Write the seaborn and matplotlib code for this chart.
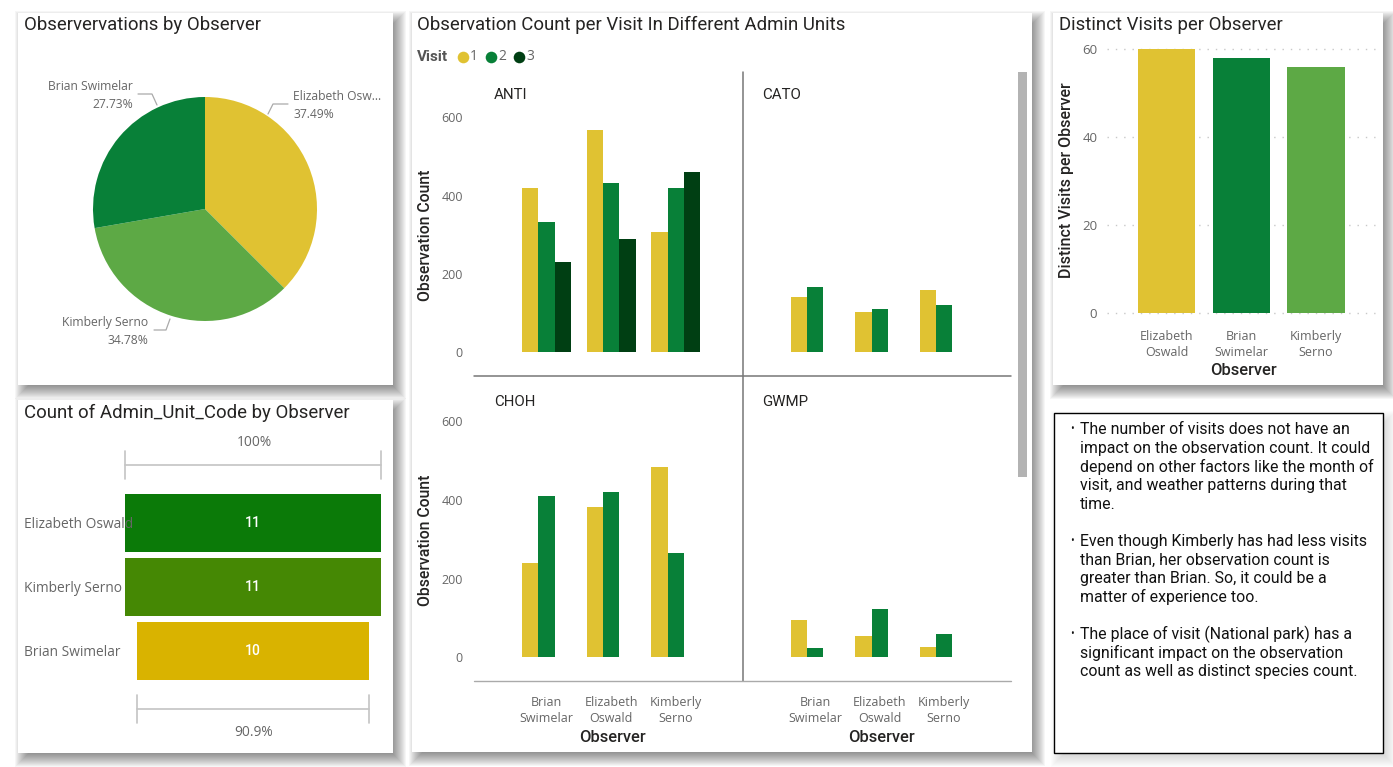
import pandas as pd
import seaborn as sns
import matplotlib.pyplot as plt
from matplotlib.patches import Rectangle
from matplotlib.transforms import blended_transform_factory

W, H = 1393, 767

# === Data ===
pie_names = ["Elizabeth Oswald", "Kimberly Serno", "Brian Swimelar"]
pie_values = [37.49, 34.78, 27.73]

unit_names = ["Elizabeth Oswald", "Kimberly Serno", "Brian Swimelar"]
unit_counts = [11, 11, 10]

visit_names = ["Elizabeth\nOswald", "Brian\nSwimelar", "Kimberly\nSerno"]
visit_counts = [60, 58, 56]

observers = ["Brian\nSwimelar", "Elizabeth\nOswald", "Kimberly\nSerno"]
visits = ["1", "2", "3"]
anti_counts = [[419, 332, 230], [568, 431, 288], [307, 420, 460]]
cato_counts = [[141, 166], [103, 111], [158, 121]]
choh_counts = [[239, 411], [383, 420], [483, 266]]
gwmp_counts = [[96, 23], [55, 123], [26, 60]]

notes = [
    ["The number of visits does not have an", "impact on the observation count. It could",
     "depend on other factors like the month of", "visit, and weather patterns during that", "time."],
    ["Even though Kimberly has had less visits", "than Brian, her observation count is",
     "greater than Brian. So, it could be a", "matter of experience too."],
    ["The place of visit (National park) has a", "significant impact on the observation",
     "count as well as distinct species count."],
]

YELLOW = "#E0C232"
GREEN = "#088038"
DARK = "#003F13"
LIGHT = "#5DA945"
visit_colors = dict(zip(visits, [YELLOW, GREEN, DARK]))
TITLE = "#252423"
GREY = "#666666"
HEAD_FONT = "Roboto"
BODY_FONT = "Open Sans"

sns.set_theme(style="white")
plt.rcParams["font.family"] = [BODY_FONT, "DejaVu Sans"]

fig = plt.figure(figsize=(W / 100, H / 100), dpi=100, facecolor="white")


def px_axes(x0, y0, x1, y1, **kw):
    ax = fig.add_axes([x0 / W, 1 - y1 / H, (x1 - x0) / W, (y1 - y0) / H], **kw)
    ax.patch.set_alpha(0)
    sns.despine(ax=ax, left=True, bottom=True)
    return ax


# === Backing layer: cards, shadows and loose text, in pixel units ===
bg = px_axes(0, 0, W, H, zorder=0)
bg.set_xlim(0, W)
bg.set_ylim(H, 0)
bg.axis("off")


def card(x0, y0, x1, y1, alpha=0.035):
    # soft drop shadow, stacked see-through rectangles
    for grow in range(8, -7, -1):
        bg.add_patch(Rectangle((x0 - grow + 5, y0 - grow + 6), x1 - x0 + 2 * grow, y1 - y0 + 2 * grow,
                               fc="#000000", ec="none", alpha=alpha))
    bg.add_patch(Rectangle((x0, y0), x1 - x0, y1 - y0, fc="white", ec="none"))


card(18, 13, 393, 385)
card(18, 400, 393, 753)
card(412, 13, 1032, 752)
card(1053, 13, 1383, 385)


def title(x, y, s):
    bg.text(x, y, s, fontsize=13.4, family=HEAD_FONT, color=TITLE, va="center", ha="left")


title(24, 24.5, "Observervations by Observer")
title(24, 412.5, "Count of Admin_Unit_Code by Observer")
title(417, 24.5, "Observation Count per Visit In Different Admin Units")
title(1059, 24.5, "Distinct Visits per Observer")

# === Pie ===
pie_ax = px_axes(93, 97, 317, 321)
pie_ax.pie(pie_values, colors=[YELLOW, LIGHT, GREEN], startangle=90, counterclock=False, radius=1,
           wedgeprops={"linewidth": 0})
pie_ax.set_xlim(-1, 1)
pie_ax.set_ylim(-1, 1)

pie_labels = [
    (293, 96.5, 115, "left", 0, [288, 273, 268], [104, 104, 114]),
    (148, 322.5, 340.5, "right", 1, [154, 166, 170], [330, 330, 319]),
    (133, 87, 105, "right", 2, [138, 152, 157], [94, 94, 105]),
]
for x, y1, y2, ha, i, lx, ly in pie_labels:
    name = pie_names[i] if i != 0 else "Elizabeth Osw..."
    bg.text(x, y1, name, fontsize=8.7, color=GREY, ha=ha, va="center")
    bg.text(x, y2, f"{pie_values[i]:.2f}%", fontsize=8.7, color=GREY, ha=ha, va="center")
    bg.plot(lx, ly, color="#aaaaaa", lw=0.9)

# === Funnel ===
funnel_colors = ["#0B7A08", "#458804", "#D9B300"]
funnel_ax = px_axes(125, 491, 381, 683)
sns.barplot(x=unit_counts, y=unit_names, hue=unit_names, palette=funnel_colors, saturation=1,
            width=0.9, legend=False, ax=funnel_ax, orient="h", linewidth=0)
top_count = max(unit_counts)
for bar, count in zip(funnel_ax.patches, unit_counts):
    bar.set_x((top_count - count) / 2)
    funnel_ax.text(top_count / 2, bar.get_y() + bar.get_height() / 2, str(count), color="white",
                   fontsize=10, fontweight="medium", ha="center", va="center", family=HEAD_FONT)
funnel_ax.set_xlim(0, top_count)
funnel_ax.set_ylim(2.5, -0.5)
funnel_ax.set_xticks([])
funnel_ax.set(xlabel="", ylabel="")
funnel_ax.set_axisbelow(False)
funnel_ax.tick_params(axis="y", length=0, pad=101 * 0.72, labelsize=9.95, labelcolor=GREY)
for lab in funnel_ax.get_yticklabels():
    lab.set_ha("left")

bracket = blended_transform_factory(funnel_ax.transData, bg.transData)
for count, y, label_y in [(unit_counts[0], 465, 443), (unit_counts[-1], 709, 733)]:
    x0 = (top_count - count) / 2
    x1 = x0 + count
    funnel_ax.plot([x0, x1], [y, y], transform=bracket, color="#c4c4c4", lw=1.2, clip_on=False)
    for x in (x0, x1):
        funnel_ax.plot([x, x], [y - 14, y + 14], transform=bracket, color="#c4c4c4", lw=1.2, clip_on=False)
    funnel_ax.text(top_count / 2 + 0.04, label_y, f"{count / top_count:.1%}".replace(".0%", "%"), transform=bracket,
                   fontsize=9.95, color=GREY, ha="center", va="center")

# === Small multiples ===
rows = []
for unit, table in [("ANTI", anti_counts), ("CATO", cato_counts), ("CHOH", choh_counts), ("GWMP", gwmp_counts)]:
    for observer, counts in zip(observers, table):
        for visit, count in zip(visits, counts):
            rows.append({"unit": unit, "Observer": observer, "Visit": visit, "count": count})
df = pd.DataFrame(rows)

facets = [
    ("ANTI", 474, 743, 72, 376, 0, 95, 235),
    ("CATO", 743, 1011, 72, 376, 1, 95, 235),
    ("CHOH", 474, 743, 376, 681, 0, 401.5, 540),
    ("GWMP", 743, 1011, 376, 681, 1, 401.5, 540),
]
for unit, x0, x1, y0, y1, col, label_y, ylabel_y in facets:
    ax = px_axes(x0, y0, x1, y1)
    sns.barplot(data=df[df["unit"] == unit], x="Observer", y="count", hue="Visit", order=observers,
                hue_order=visits, palette=visit_colors, saturation=1, width=0.76, errorbar=None,
                legend=False, ax=ax, linewidth=0)
    ax.set_xlim(-1.124, 3.04)
    ax.set_ylim(-60, 715)
    ax.set_yticks([0, 200, 400, 600] if col == 0 else [])
    ax.set(xlabel="", ylabel="")
    ax.tick_params(axis="y", length=0, pad=8, labelsize=9, labelcolor=GREY)
    ax.tick_params(axis="x", length=0, pad=10.5, labelsize=9, labelcolor=GREY)
    if y1 < 500:
        ax.set_xticks([])
    else:
        for lab in ax.get_xticklabels():
            lab.set_linespacing(1.3)
        bg.text(x0 + 138, 737.5, "Observer", fontsize=11.9, fontweight="medium", family=HEAD_FONT, color=TITLE,
                ha="center", va="center")
    if col == 0:
        bg.text(426, ylabel_y, "Observation Count", fontsize=11.3, fontweight="medium", family=HEAD_FONT, color=TITLE,
                rotation=90, ha="center", va="center")
    bg.text(x0 + (20 if col == 0 else 19), label_y, unit, fontsize=10.8, family=HEAD_FONT,
            color=TITLE, ha="left", va="center")

bg.plot([743, 743], [72, 681], color="#777777", lw=1.1)
bg.plot([474, 1011], [376, 376], color="#777777", lw=1.1)
bg.plot([474, 1011], [681, 681], color="#aaaaaa", lw=1.0)
bg.add_patch(Rectangle((1018, 72), 9, 405, fc="#b3b3b3", ec="none"))

# legend
bg.text(417, 57, "Visit", fontsize=11, fontweight="bold", family=HEAD_FONT, color="#555555", va="center")
for visit, dot_x in zip(visits, [463, 491, 519]):
    bg.scatter([dot_x], [57], s=70, color=visit_colors[visit], linewidths=0)
    bg.text(dot_x + 11, 57, visit, fontsize=10, color=GREY, ha="center", va="center")

# === Distinct visits ===
visit_ax = px_axes(1107, 49, 1375, 313)
sns.barplot(x=visit_names, y=visit_counts, hue=visit_names, palette=[YELLOW, GREEN, LIGHT], saturation=1,
            width=0.765, legend=False, ax=visit_ax, zorder=3, linewidth=0)
visit_ax.set_xlim(-0.797, 2.79)
visit_ax.set_ylim(0, 60)
visit_ax.set_yticks([0, 20, 40, 60])
visit_ax.grid(axis="y", color="#c8c8c8", linestyle=(0, (1, 5)), lw=1, clip_on=False)
visit_ax.set_axisbelow(True)
visit_ax.set(xlabel="", ylabel="")
visit_ax.tick_params(axis="y", length=0, pad=7, labelsize=9.5, labelcolor=GREY)
visit_ax.tick_params(axis="x", length=0, pad=12, labelsize=9, labelcolor=GREY)
for lab in visit_ax.get_xticklabels():
    lab.set_linespacing(1.3)
bg.text(1067, 180, "Distinct Visits per Observer", fontsize=11.5, fontweight="medium", family=HEAD_FONT, color=TITLE,
        rotation=90, ha="center", va="center")
bg.text(1243, 370.5, "Observer", fontsize=11.9, fontweight="medium", family=HEAD_FONT, color=TITLE,
        ha="center", va="center")

# === Notes box ===
card(1053.5, 413, 1383, 753, alpha=0.012)
bg.add_patch(Rectangle((1053.5, 413), 329.5, 340, fc="white", ec="black", lw=1))
line_y = 429.5
for block in notes:
    bg.text(1072, line_y, "•", fontsize=7, color="#111111", ha="center", va="center")
    for line in block:
        bg.text(1080, line_y, line, fontsize=11.4, family=HEAD_FONT, color="#111111", va="center")
        line_y += 18.65
    line_y += 18.65

fig.savefig("out.png", dpi=100)
